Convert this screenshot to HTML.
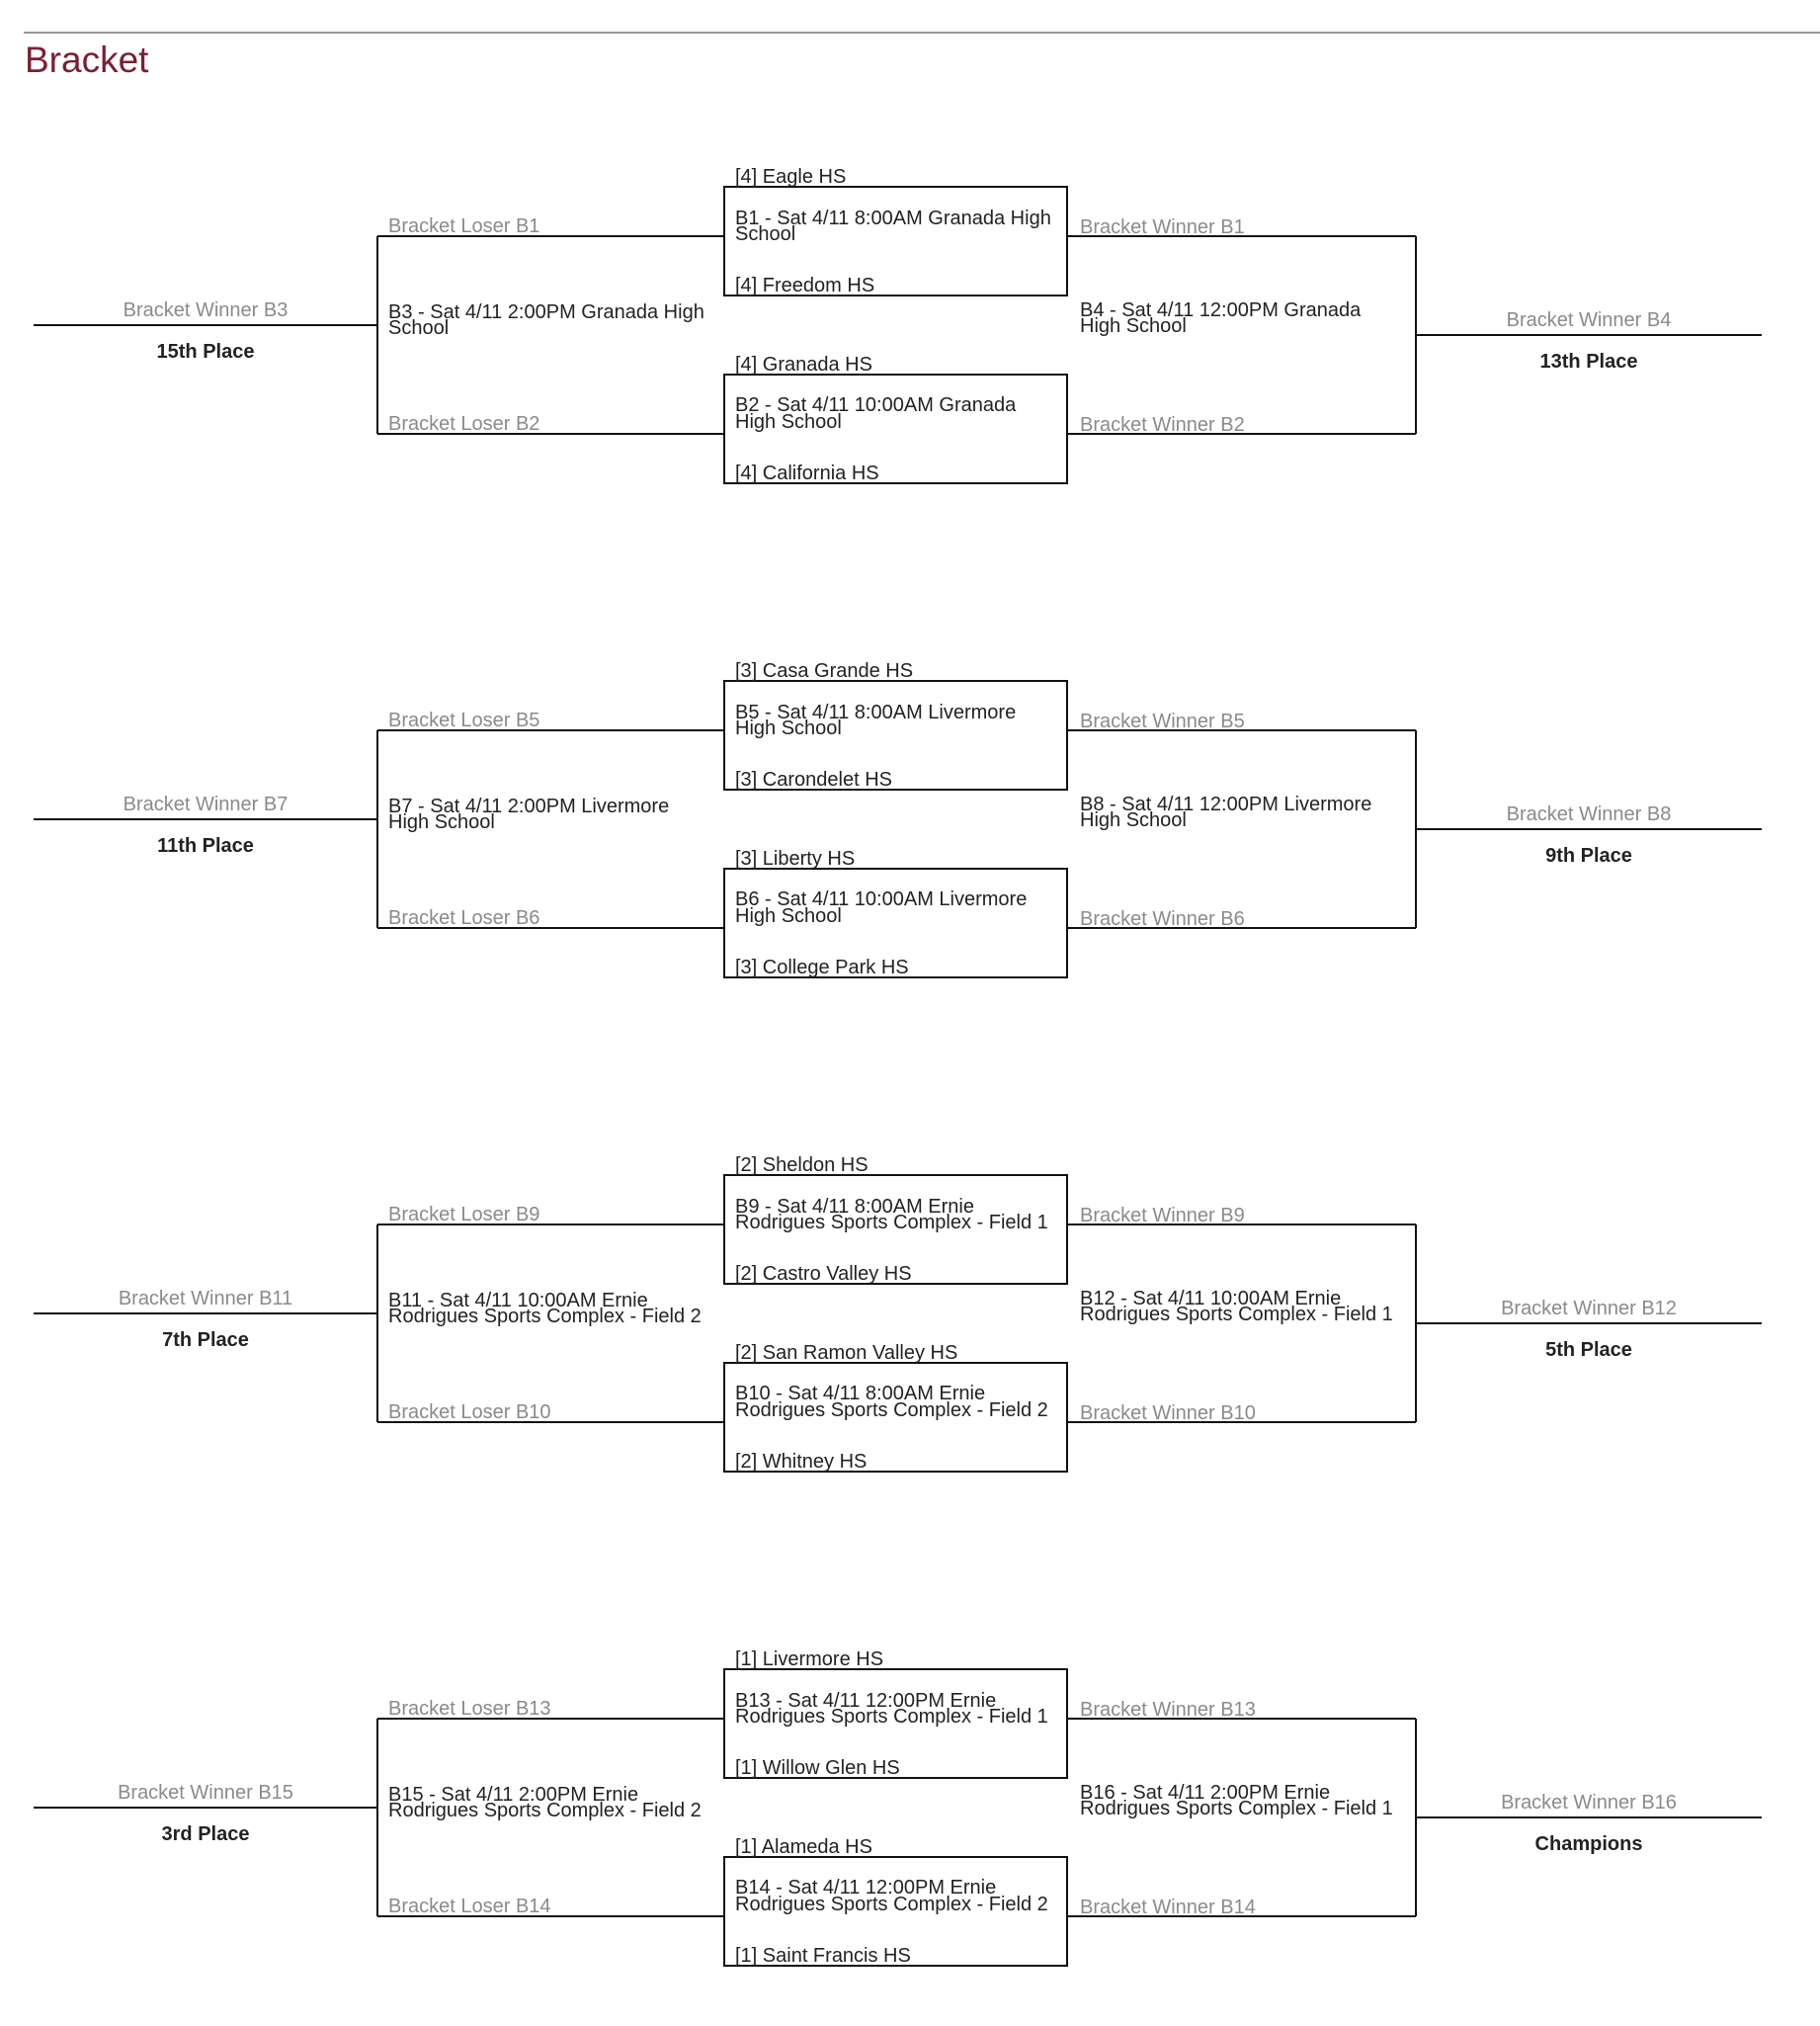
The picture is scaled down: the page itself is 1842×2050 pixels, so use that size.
<!DOCTYPE html>
<html><head><meta charset="utf-8"><style>
html,body{margin:0;padding:0;background:#fff;width:1842px;height:2050px;overflow:hidden}
svg{display:block}
text{font-family:"Liberation Sans",sans-serif;font-size:20px;fill:#222}
.g{fill:#8a8a8a}
.b{font-weight:bold;text-anchor:middle}
.c{text-anchor:middle}
line,rect{stroke:#111;stroke-width:2;fill:none}
</style></head><body>
<svg width="1842" height="2050" viewBox="0 0 1842 2050">
<line x1="24" y1="33" x2="1842" y2="33" style="stroke:#999"/>
<text x="25" y="73" style="font-size:37px;fill:#7a1f35">Bracket</text>

<g id="s1">
<line x1="34" y1="329" x2="382" y2="329"/><line x1="382" y1="239" x2="382" y2="439"/>
<line x1="382" y1="239" x2="733" y2="239"/><line x1="382" y1="439" x2="733" y2="439"/>
<rect x="733" y="189" width="347" height="110"/><rect x="733" y="379" width="347" height="110"/>
<line x1="1080" y1="239" x2="1433" y2="239"/><line x1="1080" y1="439" x2="1433" y2="439"/>
<line x1="1433" y1="239" x2="1433" y2="439"/><line x1="1433" y1="339" x2="1783" y2="339"/>
<text class="g c" x="208" y="320">Bracket Winner B3</text><text class="b" x="208" y="362">15th Place</text>
<text class="g" x="393" y="235">Bracket Loser B1</text><text class="g" x="393" y="435">Bracket Loser B2</text>
<text x="393" y="322">B3 - Sat 4/11 2:00PM Granada High</text><text x="393" y="338">School</text>
<text x="744" y="185">[4] Eagle HS</text><text x="744" y="227">B1 - Sat 4/11 8:00AM Granada High</text><text x="744" y="243">School</text><text x="744" y="295">[4] Freedom HS</text>
<text x="744" y="375">[4] Granada HS</text><text x="744" y="416">B2 - Sat 4/11 10:00AM Granada</text><text x="744" y="433">High School</text><text x="744" y="485">[4] California HS</text>
<text class="g" x="1093" y="236">Bracket Winner B1</text><text class="g" x="1093" y="436">Bracket Winner B2</text>
<text x="1093" y="320">B4 - Sat 4/11 12:00PM Granada</text><text x="1093" y="336">High School</text>
<text class="g c" x="1608" y="330">Bracket Winner B4</text><text class="b" x="1608" y="372">13th Place</text>
</g>

<g transform="translate(0,500)">
<line x1="34" y1="329" x2="382" y2="329"/><line x1="382" y1="239" x2="382" y2="439"/>
<line x1="382" y1="239" x2="733" y2="239"/><line x1="382" y1="439" x2="733" y2="439"/>
<rect x="733" y="189" width="347" height="110"/><rect x="733" y="379" width="347" height="110"/>
<line x1="1080" y1="239" x2="1433" y2="239"/><line x1="1080" y1="439" x2="1433" y2="439"/>
<line x1="1433" y1="239" x2="1433" y2="439"/><line x1="1433" y1="339" x2="1783" y2="339"/>
<text class="g c" x="208" y="320">Bracket Winner B7</text><text class="b" x="208" y="362">11th Place</text>
<text class="g" x="393" y="235">Bracket Loser B5</text><text class="g" x="393" y="435">Bracket Loser B6</text>
<text x="393" y="322">B7 - Sat 4/11 2:00PM Livermore</text><text x="393" y="338">High School</text>
<text x="744" y="185">[3] Casa Grande HS</text><text x="744" y="227">B5 - Sat 4/11 8:00AM Livermore</text><text x="744" y="243">High School</text><text x="744" y="295">[3] Carondelet HS</text>
<text x="744" y="375">[3] Liberty HS</text><text x="744" y="416">B6 - Sat 4/11 10:00AM Livermore</text><text x="744" y="433">High School</text><text x="744" y="485">[3] College Park HS</text>
<text class="g" x="1093" y="236">Bracket Winner B5</text><text class="g" x="1093" y="436">Bracket Winner B6</text>
<text x="1093" y="320">B8 - Sat 4/11 12:00PM Livermore</text><text x="1093" y="336">High School</text>
<text class="g c" x="1608" y="330">Bracket Winner B8</text><text class="b" x="1608" y="372">9th Place</text>
</g>

<g transform="translate(0,1000)">
<line x1="34" y1="329" x2="382" y2="329"/><line x1="382" y1="239" x2="382" y2="439"/>
<line x1="382" y1="239" x2="733" y2="239"/><line x1="382" y1="439" x2="733" y2="439"/>
<rect x="733" y="189" width="347" height="110"/><rect x="733" y="379" width="347" height="110"/>
<line x1="1080" y1="239" x2="1433" y2="239"/><line x1="1080" y1="439" x2="1433" y2="439"/>
<line x1="1433" y1="239" x2="1433" y2="439"/><line x1="1433" y1="339" x2="1783" y2="339"/>
<text class="g c" x="208" y="320">Bracket Winner B11</text><text class="b" x="208" y="362">7th Place</text>
<text class="g" x="393" y="235">Bracket Loser B9</text><text class="g" x="393" y="435">Bracket Loser B10</text>
<text x="393" y="322">B11 - Sat 4/11 10:00AM Ernie</text><text x="393" y="338">Rodrigues Sports Complex - Field 2</text>
<text x="744" y="185">[2] Sheldon HS</text><text x="744" y="227">B9 - Sat 4/11 8:00AM Ernie</text><text x="744" y="243">Rodrigues Sports Complex - Field 1</text><text x="744" y="295">[2] Castro Valley HS</text>
<text x="744" y="375">[2] San Ramon Valley HS</text><text x="744" y="416">B10 - Sat 4/11 8:00AM Ernie</text><text x="744" y="433">Rodrigues Sports Complex - Field 2</text><text x="744" y="485">[2] Whitney HS</text>
<text class="g" x="1093" y="236">Bracket Winner B9</text><text class="g" x="1093" y="436">Bracket Winner B10</text>
<text x="1093" y="320">B12 - Sat 4/11 10:00AM Ernie</text><text x="1093" y="336">Rodrigues Sports Complex - Field 1</text>
<text class="g c" x="1608" y="330">Bracket Winner B12</text><text class="b" x="1608" y="372">5th Place</text>
</g>

<g transform="translate(0,1500)">
<line x1="34" y1="329" x2="382" y2="329"/><line x1="382" y1="239" x2="382" y2="439"/>
<line x1="382" y1="239" x2="733" y2="239"/><line x1="382" y1="439" x2="733" y2="439"/>
<rect x="733" y="189" width="347" height="110"/><rect x="733" y="379" width="347" height="110"/>
<line x1="1080" y1="239" x2="1433" y2="239"/><line x1="1080" y1="439" x2="1433" y2="439"/>
<line x1="1433" y1="239" x2="1433" y2="439"/><line x1="1433" y1="339" x2="1783" y2="339"/>
<text class="g c" x="208" y="320">Bracket Winner B15</text><text class="b" x="208" y="362">3rd Place</text>
<text class="g" x="393" y="235">Bracket Loser B13</text><text class="g" x="393" y="435">Bracket Loser B14</text>
<text x="393" y="322">B15 - Sat 4/11 2:00PM Ernie</text><text x="393" y="338">Rodrigues Sports Complex - Field 2</text>
<text x="744" y="185">[1] Livermore HS</text><text x="744" y="227">B13 - Sat 4/11 12:00PM Ernie</text><text x="744" y="243">Rodrigues Sports Complex - Field 1</text><text x="744" y="295">[1] Willow Glen HS</text>
<text x="744" y="375">[1] Alameda HS</text><text x="744" y="416">B14 - Sat 4/11 12:00PM Ernie</text><text x="744" y="433">Rodrigues Sports Complex - Field 2</text><text x="744" y="485">[1] Saint Francis HS</text>
<text class="g" x="1093" y="236">Bracket Winner B13</text><text class="g" x="1093" y="436">Bracket Winner B14</text>
<text x="1093" y="320">B16 - Sat 4/11 2:00PM Ernie</text><text x="1093" y="336">Rodrigues Sports Complex - Field 1</text>
<text class="g c" x="1608" y="330">Bracket Winner B16</text><text class="b" x="1608" y="372">Champions</text>
</g>
</svg>
</body></html>
